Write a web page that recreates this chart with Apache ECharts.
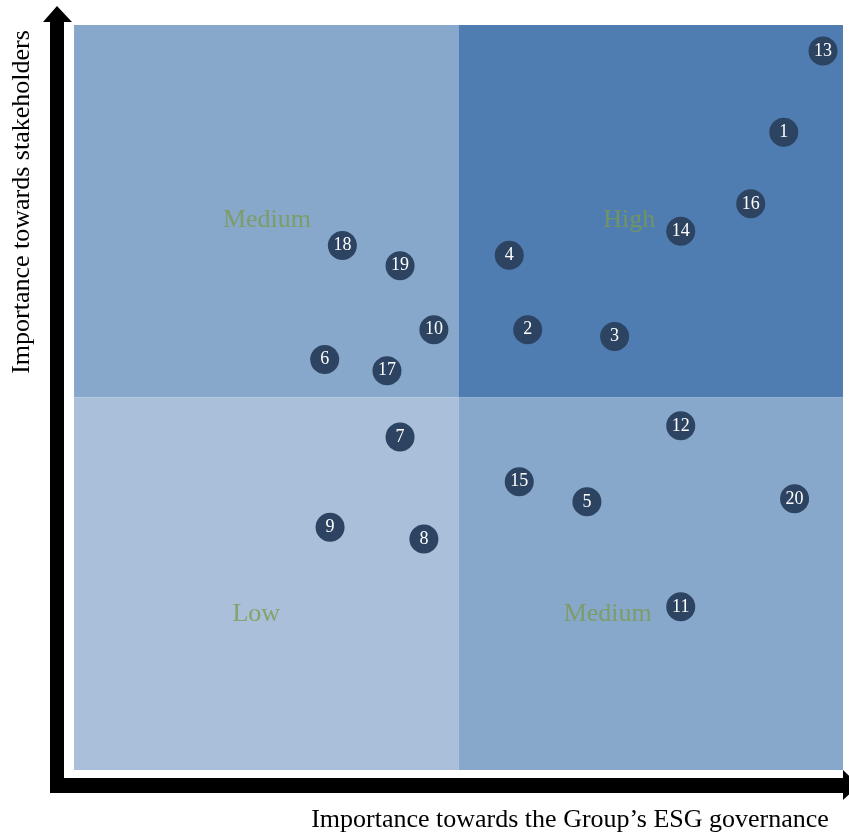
<!DOCTYPE html>
<html>
<head>
<meta charset="utf-8">
<script src="https://cdn.jsdelivr.net/npm/echarts@6/dist/echarts.min.js"></script>
<style>
  html, body { margin: 0; padding: 0; background: #fff; }
  #chart_box { width: 849px; height: 834px; }
</style>
</head>
<body>
<div id="chart_box"></div>
<script>
// issue numbers and their scores (0-100 on both axes)
var issues = ['13', '1', '16', '14', '4', '18', '19', '10', '2', '3', '6', '17', '7', '12', '15', '5', '20', '9', '8', '11'];
var governance = [97.4, 92.3, 88.0, 78.9, 56.6, 34.9, 42.4, 46.8, 59.0, 70.3, 32.6, 40.7, 42.4, 78.9, 57.9, 66.7, 93.7, 33.3, 45.5, 78.9];
var stakeholders = [96.5, 85.6, 76.0, 72.3, 69.1, 70.4, 67.7, 59.1, 59.1, 58.2, 55.1, 53.6, 44.7, 46.2, 38.7, 36.0, 36.4, 32.6, 31.0, 21.9];

var quadrantNames = ['Medium', 'High', 'Low', 'Medium'];
var quadrantLabelX = [25.1, 72.2, 23.7, 69.4];
var quadrantLabelY = [73.8, 73.8, 20.9, 20.9];

var xTitle = 'Importance towards the Group\u2019s ESG governance';
var yTitle = 'Importance towards stakeholders';

var myChart1 = echarts.init(document.getElementById('chart_box'));

var pts = [];
for (var i = 0; i < issues.length; i++) {
    pts.push({ value: [governance[i], stakeholders[i]], name: issues[i] });
}
var qlabels = [];
for (var j = 0; j < quadrantNames.length; j++) {
    qlabels.push({ value: [quadrantLabelX[j], quadrantLabelY[j]], name: quadrantNames[j] });
}

var serif = '"Liberation Serif", "DejaVu Serif", serif';

option = {
    animation: false,
    grid: { left: 74, right: 6, top: 25, bottom: 64 },
    xAxis: { type: 'value', min: 0, max: 100, show: false },
    yAxis: { type: 'value', min: 0, max: 100, show: false },
    series: [
        {
            // quadrant backgrounds
            type: 'scatter',
            data: [],
            silent: true,
            markArea: {
                silent: true,
                data: [
                    [{ coord: [0, 50], itemStyle: { color: '#87a8cb' } }, { coord: [50, 100] }],
                    [{ coord: [50, 50], itemStyle: { color: '#4f7db1' } }, { coord: [100, 100] }],
                    [{ coord: [0, 0], itemStyle: { color: '#aac0da' } }, { coord: [50, 50] }],
                    [{ coord: [50, 0], itemStyle: { color: '#87a8cb' } }, { coord: [100, 50] }]
                ]
            }
        },
        {
            // quadrant labels
            type: 'scatter',
            symbolSize: 0,
            silent: true,
            data: qlabels,
            label: {
                show: true,
                position: 'inside',
                formatter: '{b}',
                color: '#7b9a4f',
                fontFamily: serif,
                fontSize: 26
            }
        },
        {
            type: 'scatter',
            symbol: 'circle',
            symbolSize: 29,
            data: pts,
            itemStyle: { color: '#2c4362', opacity: 1 },
            label: {
                show: true,
                position: 'inside',
                formatter: '{b}',
                color: '#ffffff',
                fontFamily: serif,
                fontSize: 18
            },
            z: 5
        }
    ],
    graphic: [
        // vertical axis bar + arrow
        { type: 'rect', shape: { x: 50, y: 21, width: 14, height: 772 }, style: { fill: '#000' } },
        { type: 'polygon', shape: { points: [[43, 22], [72, 22], [57, 6]] }, style: { fill: '#000' } },
        // horizontal axis bar + arrow
        { type: 'rect', shape: { x: 50, y: 778, width: 795, height: 15 }, style: { fill: '#000' } },
        { type: 'polygon', shape: { points: [[843, 770], [843, 800], [859, 785]] }, style: { fill: '#000' } },
        {
            type: 'text', x: 570, y: 820,
            style: { text: xTitle, font: '26px ' + serif, fill: '#000', align: 'center', verticalAlign: 'middle' }
        },
        {
            type: 'text', x: 22, y: 202, rotation: Math.PI / 2,
            style: { text: yTitle, font: '26px ' + serif, fill: '#000', align: 'center', verticalAlign: 'middle' }
        }
    ]
};
myChart1.setOption(option);
</script>
</body>
</html>
